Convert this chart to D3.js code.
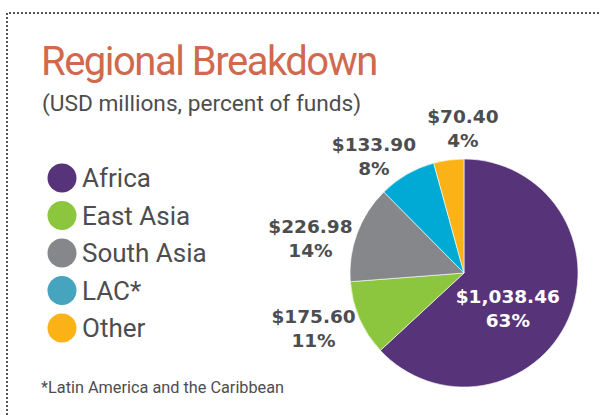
<!DOCTYPE html>
<html lang="en">
<head>
<meta charset="utf-8">
<title>Regional Breakdown</title>
<script src="https://cdn.jsdelivr.net/npm/d3@7"></script>
<style>
  body { margin: 0; background: #fff; }
  text { font-family: Roboto, sans-serif; }
  .title { fill: #d0694f; font-size: 40px; letter-spacing: -1.5px; }
  .subtitle { fill: #4d4d4f; font-size: 22.7px; }
  .legend text { fill: #4d4d4f; font-size: 26px; }
  .note { fill: #4d4d4f; font-size: 16.3px; }
  .lbl { font-family: "DejaVu Sans", sans-serif; font-weight: bold; font-size: 18.5px; fill: #4d4d4f; }
  .lbl.inside { fill: #fff; }
</style>
</head>
<body>
<div id="chart"></div>
<script>
// data
var regions = ["Africa", "East Asia", "South Asia", "LAC*", "Other"];
var amounts = [1038.46, 175.60, 226.98, 133.90, 70.40];
var percents = ["63%", "11%", "14%", "8%", "4%"];

var colors = ["#573479", "#8cc63f", "#86878b", "#00aad4", "#fbb217"];
var legendColors = ["#573479", "#8cc63f", "#86878b", "#46a4be", "#fbb217"];

var width = 600, height = 415;

var svg = d3.select("#chart").append("svg")
    .attr("width", width)
    .attr("height", height);

// dotted frame (top and left)
svg.append("path")
    .attr("d", "M7,415V13H600")
    .attr("fill", "none")
    .attr("stroke", "#555")
    .attr("stroke-width", 2)
    .attr("stroke-dasharray", "2,2");

svg.append("text").attr("class", "title")
    .attr("x", 41).attr("y", 75)
    .text("Regional Breakdown");

svg.append("text").attr("class", "subtitle")
    .attr("x", 42).attr("y", 111)
    .text("(USD millions, percent of funds)");

// legend
var ly = d3.scalePoint().domain(regions).range([178, 328]);
var legend = svg.append("g").attr("class", "legend")
  .selectAll("g")
  .data(regions)
  .enter().append("g")
    .attr("transform", function(d) { return "translate(62," + ly(d) + ")"; });

legend.append("circle")
    .attr("r", 14.5)
    .attr("fill", function(d, i) { return legendColors[i]; });

legend.append("text")
    .attr("x", 20)
    .attr("dy", "0.36em")
    .text(function(d) { return d; });

svg.append("text").attr("class", "note")
    .attr("x", 41).attr("y", 393)
    .text("*Latin America and the Caribbean");

// pie
var cx = 464, cy = 273, r = 114;
var data = regions.map(function(d, i) {
  return {name: d, value: amounts[i], pct: percents[i], color: colors[i]};
});

var pie = d3.pie().sort(null).value(function(d) { return d.value; });
var arc = d3.arc().innerRadius(0).outerRadius(r);
var outerArc = d3.arc().innerRadius(150).outerRadius(150);
var innerArc = d3.arc().innerRadius(62).outerRadius(62);

// small hand tweaks so labels sit like the original
var nudge = [[-13, 17], [-13, 2], [-13, 24], [-15, 20], [19, 11]];

var g = svg.append("g").attr("transform", "translate(" + cx + "," + cy + ")");
var arcs = pie(data);

g.selectAll("path")
    .data(arcs)
  .enter().append("path")
    .attr("d", arc)
    .attr("fill", function(d) { return d.data.color; })
    .attr("stroke", "#fff")
    .attr("stroke-width", 0.6);

var fmt = d3.format(",.2f");
var labels = g.selectAll(".lbl")
    .data(arcs)
  .enter().append("text")
    .attr("class", function(d, i) { return i === 0 ? "lbl inside" : "lbl"; })
    .attr("text-anchor", "middle")
    .attr("transform", function(d, i) {
      var c = (i === 0 ? innerArc : outerArc).centroid(d);
      return "translate(" + (c[0] + nudge[i][0]) + "," + (c[1] + nudge[i][1]) + ")";
    });

labels.append("tspan").attr("x", 0).attr("y", -12)
    .text(function(d) { return "$" + fmt(d.data.value); });
labels.append("tspan").attr("x", 0).attr("y", 12)
    .text(function(d) { return d.data.pct; });
</script>
</body>
</html>
